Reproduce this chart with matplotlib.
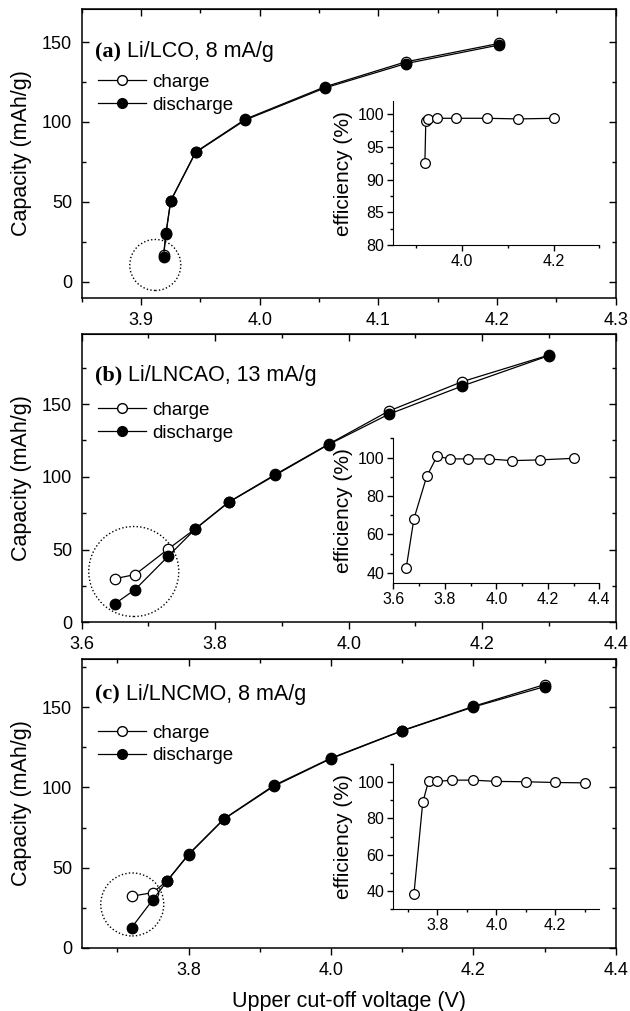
import matplotlib
matplotlib.use("Agg")
import matplotlib.pyplot as plt
from matplotlib.ticker import MultipleLocator, FormatStrFormatter
from matplotlib.lines import Line2D

plt.rcParams['font.family'] = ['Liberation Sans', 'DejaVu Sans']

# ---- data ----
# (a) Li/LCO
volt_a = [3.919, 3.921, 3.925, 3.946, 3.988, 4.055, 4.123, 4.202]
charge_a = [16.8, 30.5, 50.8, 81.2, 101.8, 122.0, 137.6, 149.2]
discharge_a = [15.6, 30.2, 50.5, 80.9, 101.3, 121.3, 136.5, 148.2]
eff_a = [92.6, 99.0, 99.3, 99.4, 99.4, 99.4, 99.3, 99.4]

# (b) Li/LNCAO
volt_b = [3.65, 3.68, 3.73, 3.77, 3.82, 3.89, 3.97, 4.06, 4.17, 4.30]
charge_b = [30.0, 32.8, 50.5, 64.2, 82.6, 101.6, 122.5, 145.2, 165.4, 183.7]
discharge_b = [12.8, 22.5, 45.6, 64.0, 82.4, 101.1, 122.2, 143.0, 162.4, 183.3]
eff_b = [42.4, 68.1, 90.3, 100.7, 99.3, 99.3, 99.3, 98.4, 98.8, 99.6]

# (c) Li/LNCMO
volt_c = [3.72, 3.75, 3.77, 3.80, 3.85, 3.92, 4.00, 4.10, 4.20, 4.30]
charge_c = [32.1, 34.4, 41.8, 58.3, 80.5, 101.3, 118.3, 135.5, 150.6, 164.2]
discharge_c = [12.5, 30.0, 41.6, 58.0, 80.3, 100.8, 118.0, 135.3, 150.2, 162.9]
eff_c = [38.1, 88.8, 100.7, 100.4, 101.1, 101.1, 100.4, 100.2, 99.8, 99.6]

tags = ['(a)', '(b)', '(c)']
titles = [' Li/LCO, 8 mA/g', ' Li/LNCAO, 13 mA/g', ' Li/LNCMO, 8 mA/g']

# dotted circles marking the low-voltage points (data centre, marker area)
circles = [(3.912, 10.5, 1350), (3.678, 34.9, 4200), (3.721, 27.0, 2060)]

panels = [
    dict(x=volt_a, chg=charge_a, dis=discharge_a, eff=eff_a,
         rect=[0.1297, 0.7055, 0.8476, 0.2853], xlim=(3.85, 4.3), ylim=(-10, 170.5),
         xmaj=0.1, xmin=0.05,
         inset=[0.6243, 0.7577, 0.327, 0.1421], ixlim=(3.85, 4.3), iylim=(80, 102),
         iymaj=5, iymin=2.5, ty=0.834, ly=0.776),
    dict(x=volt_b, chg=charge_b, dis=discharge_b, eff=eff_b,
         rect=[0.1297, 0.3845, 0.8476, 0.2849], xlim=(3.6, 4.4), ylim=(0, 198),
         xmaj=0.2, xmin=0.1,
         inset=[0.6243, 0.4230, 0.327, 0.1434], ixlim=(3.6, 4.4), iylim=(34.5, 110),
         iymaj=20, iymin=10, ty=0.838, ly=0.765),
    dict(x=volt_c, chg=charge_c, dis=discharge_c, eff=eff_c,
         rect=[0.1297, 0.0626, 0.8476, 0.2853], xlim=(3.65, 4.4), ylim=(0, 180),
         xmaj=0.2, xmin=0.1,
         inset=[0.6243, 0.1009, 0.327, 0.1434], ixlim=(3.65, 4.35), iylim=(30, 110),
         iymaj=20, iymin=10, ty=0.86, ly=0.774),
]

fig = plt.figure(figsize=(6.3, 10.11), dpi=100)

for i, p in enumerate(panels):
    ax = fig.add_axes(p['rect'])
    ax.plot(p['x'], p['chg'], '-o', color='k', lw=0.9, ms=7.5,
            mfc='white', mec='k', mew=0.9, zorder=3)
    ax.plot(p['x'], p['dis'], '-o', color='k', lw=0.9, ms=7.5,
            mfc='k', mec='k', zorder=4)
    cx, cy, s = circles[i]
    ax.scatter([cx], [cy], s=s, facecolors='none', edgecolors='k',
               linewidths=1.0, linestyles=(0, (1, 1.6)), zorder=2)

    ax.set_xlim(*p['xlim'])
    ax.set_ylim(*p['ylim'])
    ax.xaxis.set_major_locator(MultipleLocator(p['xmaj']))
    ax.xaxis.set_minor_locator(MultipleLocator(p['xmin']))
    ax.xaxis.set_major_formatter(FormatStrFormatter('%.1f'))
    ax.yaxis.set_major_locator(MultipleLocator(50))
    ax.yaxis.set_minor_locator(MultipleLocator(25))
    ax.tick_params(axis='y', which='both', direction='in', left=True, right=True,
                   labelsize=13, pad=7)
    ax.tick_params(axis='x', which='both', direction='out', labelsize=13, pad=5)
    ax.tick_params(which='major', length=5, width=1)
    ax.tick_params(which='minor', length=3, width=1)
    for sp in ax.spines.values():
        sp.set_linewidth(1.1)

    top = ax.secondary_xaxis('top')
    top.xaxis.set_major_locator(MultipleLocator(p['xmaj']))
    top.xaxis.set_minor_locator(MultipleLocator(p['xmin']))
    top.tick_params(which='both', direction='in', labeltop=False, width=1)
    top.tick_params(which='major', length=5)
    top.tick_params(which='minor', length=3)

    ax.set_ylabel('Capacity (mAh/g)', fontsize=15.5, labelpad=7)
    if i == 2:
        ax.set_xlabel('Upper cut-off voltage (V)', fontsize=15.5, labelpad=9)

    t1 = ax.text(0.025, p['ty'], tags[i], transform=ax.transAxes, va='baseline',
                 fontsize=16, fontweight='bold', family='Liberation Serif')
    ax.annotate(titles[i], xy=(1, p['ty']), xycoords=(t1, 'axes fraction'),
                va='baseline', fontsize=15.5)

    handles = [Line2D([], [], color='k', lw=0.9, marker='o', ms=7, mfc='white', mec='k'),
               Line2D([], [], color='k', lw=0.9, marker='o', ms=7, mfc='k', mec='k')]
    ax.legend(handles, ['charge', 'discharge'], loc='upper left',
              bbox_to_anchor=(0.03, p['ly']), frameon=False, fontsize=13.5,
              handlelength=2.6, handletextpad=0.3, labelspacing=0.29,
              borderpad=0, borderaxespad=0, numpoints=1)

    # inset: coulombic efficiency
    ia = fig.add_axes(p['inset'])
    ia.patch.set_alpha(0)
    ia.plot(p['x'], p['eff'], '-o', color='k', lw=0.9, ms=7,
            mfc='white', mec='k', mew=0.9)
    ia.set_xlim(*p['ixlim'])
    ia.set_ylim(*p['iylim'])
    ia.xaxis.set_major_locator(MultipleLocator(0.2))
    ia.xaxis.set_minor_locator(MultipleLocator(0.1))
    ia.xaxis.set_major_formatter(FormatStrFormatter('%.1f'))
    ia.yaxis.set_major_locator(MultipleLocator(p['iymaj']))
    ia.yaxis.set_minor_locator(MultipleLocator(p['iymin']))
    ia.spines['top'].set_visible(False)
    ia.spines['right'].set_visible(False)
    ia.tick_params(which='both', direction='out', labelsize=11.5, width=1, pad=2)
    ia.tick_params(which='major', length=4.5)
    ia.tick_params(which='minor', length=2.5)
    ia.set_ylabel('efficiency (%)', fontsize=15, labelpad=3)

fig.savefig('out.png', dpi=100)
